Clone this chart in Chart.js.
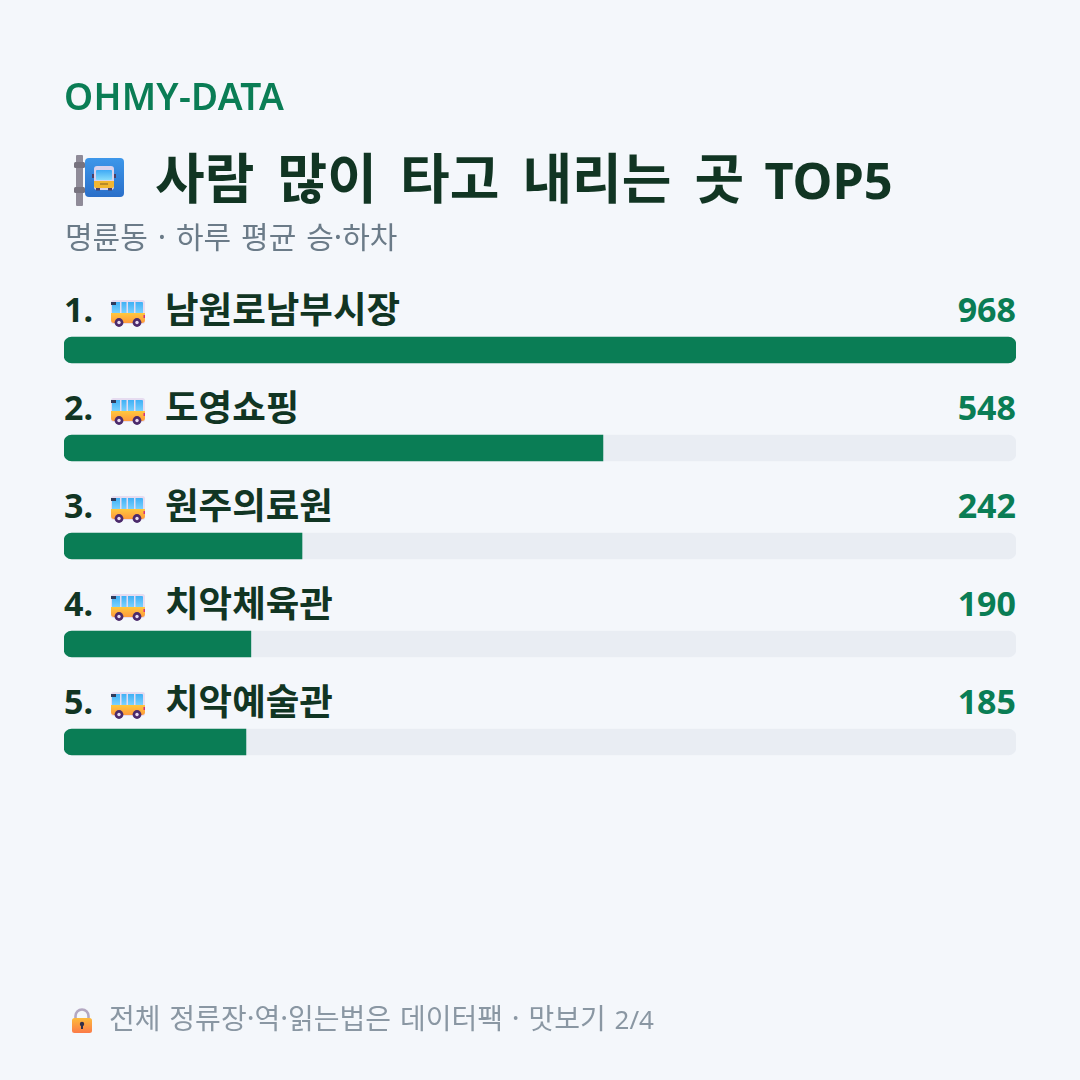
<!DOCTYPE html>
<html lang="ko">
<head>
<meta charset="utf-8">
<title>사람 많이 타고 내리는 곳 TOP5</title>
<script src="https://cdn.jsdelivr.net/npm/chart.js@4"></script>
<style>
  html, body { margin: 0; background: #f4f7fb; }
  .page { position: relative; width: 1080px; height: 1080px; overflow: hidden; }
  canvas { position: absolute; left: 0; top: 0; }
  .text { position: absolute; white-space: nowrap; font-family: "Noto Sans CJK KR", "Noto Sans", sans-serif; }
  .latin { font-family: "Noto Sans", sans-serif; }
  #brand { left: 64px; top: 72px; font-size: 37px; font-weight: 600; letter-spacing: 0.3px; color: #0a7d55; line-height: 48px; }
  #title { left: 155px; top: 141px; font-size: 54px; font-weight: 700; word-spacing: 8px; color: #113523; line-height: 70px; }
  #title .latin { font-size: 50.5px; margin-left: -3px; }
  #subtitle { left: 65px; top: 216px; font-size: 30px; word-spacing: 1.5px; color: #6b7b88; line-height: 38px; }
  #footer { left: 109px; top: 999px; font-size: 28px; word-spacing: 1px; color: #8a97a3; line-height: 36px; }
  #footer .latin { font-size: 26px; }
</style>
</head>
<body>
<div class="page">
  <canvas id="rankChart" width="1080" height="1080"></canvas>
  <div class="text latin" id="brand">OHMY-DATA</div>
  <div class="text" id="title">사람 많이 타고 내리는 곳 <span class="latin">TOP5</span></div>
  <div class="text" id="subtitle">명륜동 · 하루 평균 승·하차</div>
  <div class="text" id="footer">전체 정류장·역·읽는법은 데이터팩 · 맛보기 <span class="latin">2/4</span></div>
</div>
<script>
const stopNames = ["남원로남부시장", "도영쇼핑", "원주의료원", "치악체육관", "치악예술관"];
const riderCounts = [968, 548, 242, 190, 185];
const trackValues = [968, 968, 968, 968, 968];

const GREEN = "#0a7d55";
const TRACK = "#e9edf3";
const INK = "#113523";
const LATIN_FONT = '"Noto Sans", sans-serif';
const HANGUL_FONT = '"Noto Sans CJK KR", sans-serif';

function roundedRect(ctx, x, y, w, h, r, fill) {
  ctx.beginPath();
  ctx.roundRect(x, y, w, h, r);
  ctx.fillStyle = fill;
  ctx.fill();
}

function verticalGradient(ctx, y0, y1, from, to) {
  const g = ctx.createLinearGradient(0, y0, 0, y1);
  g.addColorStop(0, from);
  g.addColorStop(1, to);
  return g;
}

function drawWheel(ctx, cx, cy) {
  ctx.beginPath();
  ctx.arc(cx, cy, 4.4, 0, Math.PI * 2);
  ctx.fillStyle = "#4b2a6b";
  ctx.fill();
  ctx.beginPath();
  ctx.arc(cx, cy, 1.7, 0, Math.PI * 2);
  ctx.fillStyle = "#e9dcf2";
  ctx.fill();
}

// side-on bus, 34 wide and 27 tall from its top left corner
function drawBus(ctx, x, y) {
  roundedRect(ctx, x, y, 34, 24, 2.5, "#e6dcf0");
  roundedRect(ctx, x + 1, y + 2, 31, 12, 1, verticalGradient(ctx, y + 2, y + 14, "#3fb0f5", "#7fd4ff"));
  ctx.fillStyle = "#e6dcf0";
  [9, 15.5, 23].forEach((dx) => ctx.fillRect(x + dx, y + 2, 1.5, 12));
  ctx.fillStyle = "#2f3a5c";
  ctx.fillRect(x, y + 2, 5, 3);
  roundedRect(ctx, x, y + 13, 34, 10, [0, 0, 3, 3], verticalGradient(ctx, y + 13, y + 23, "#ffc83d", "#ff9a3c"));
  ctx.fillStyle = "#d6307a";
  ctx.fillRect(x + 32.5, y + 15, 1.5, 3);
  drawWheel(ctx, x + 8, y + 22.5);
  drawWheel(ctx, x + 26, y + 22.5);
}

// bus stop sign beside the heading
function drawStopSign(ctx) {
  roundedRect(ctx, 76, 155, 7, 51, 1, "#8f8b98");
  roundedRect(ctx, 74, 162, 11, 6, 1.5, "#77737f");
  roundedRect(ctx, 74, 187, 11, 6, 1.5, "#77737f");
  roundedRect(ctx, 85, 158, 39, 39, 4, verticalGradient(ctx, 158, 197, "#3d97ea", "#2a6fc9"));
  roundedRect(ctx, 94, 166, 20, 24, 3, "#d9d2ec");
  roundedRect(ctx, 96, 170, 16, 10, 1, verticalGradient(ctx, 170, 180, "#3fa9f5", "#86dcfb"));
  roundedRect(ctx, 94, 181, 20, 7, [0, 0, 2, 2], "#f2b632");
  ctx.fillStyle = "#b98a2a";
  ctx.fillRect(100, 183, 8, 2);
  ctx.fillStyle = "#4a3f66";
  ctx.fillRect(96, 188, 4, 2.5);
  ctx.fillRect(108, 188, 4, 2.5);
  ctx.fillRect(92, 174, 2, 4);
  ctx.fillRect(114, 174, 2, 4);
}

function drawLock(ctx) {
  ctx.beginPath();
  ctx.arc(82, 1016, 6.5, Math.PI, 0);
  ctx.lineTo(88.5, 1020);
  ctx.moveTo(75.5, 1020);
  ctx.lineTo(75.5, 1016);
  ctx.lineWidth = 2.6;
  ctx.strokeStyle = "#b3a8c2";
  ctx.stroke();
  roundedRect(ctx, 72, 1018, 20, 15, 2.5, verticalGradient(ctx, 1018, 1033, "#fdbb3c", "#fb7a48"));
  ctx.beginPath();
  ctx.arc(82, 1024, 2.2, 0, Math.PI * 2);
  ctx.fillStyle = "#33304a";
  ctx.fill();
  ctx.fillRect(81, 1024, 2, 5);
}

// one line of text above each bar, placed from the category scale
const rowLabels = {
  id: "rowLabels",
  afterDatasetsDraw(chart) {
    const { ctx, scales } = chart;
    ctx.save();
    ctx.textBaseline = "alphabetic";
    stopNames.forEach((name, i) => {
      const center = scales.y.getPixelForValue(i);
      const y = center - 28;
      ctx.textAlign = "left";
      ctx.fillStyle = INK;
      ctx.font = `700 34px ${LATIN_FONT}`;
      ctx.fillText(`${i + 1}.`, 64, y);
      ctx.font = `700 36.5px ${HANGUL_FONT}`;
      ctx.fillText(name, 165, y + 1);
      ctx.font = `700 34px ${LATIN_FONT}`;
      ctx.fillStyle = GREEN;
      ctx.textAlign = "right";
      ctx.fillText(String(riderCounts[i]), scales.x.right, y);
      drawBus(ctx, 111, center - 50);
    });
    ctx.restore();
  },
};

const pageIcons = {
  id: "pageIcons",
  afterDraw(chart) {
    drawStopSign(chart.ctx);
    drawLock(chart.ctx);
  },
};

const canvas = document.getElementById("rankChart");
const context = canvas.getContext("2d", { alpha: false });

new Chart(context, {
  type: "bar",
  data: {
    labels: stopNames,
    datasets: [
      {
        data: riderCounts,
        backgroundColor: GREEN,
        barThickness: 26,
        borderSkipped: false,
        grouped: false,
        order: 0,
        borderRadius(c) {
          const r = c.raw >= trackValues[c.dataIndex] ? 8 : 0;
          return { topLeft: 8, bottomLeft: 8, topRight: r, bottomRight: r };
        },
      },
      {
        data: trackValues,
        backgroundColor: TRACK,
        barThickness: 26,
        borderSkipped: false,
        borderRadius: 8,
        grouped: false,
        order: 1,
      },
    ],
  },
  options: {
    indexAxis: "y",
    responsive: false,
    animation: false,
    layout: { padding: { top: 301, bottom: 289, left: 64, right: 64 } },
    scales: {
      x: { display: false, min: 0, max: 968 },
      y: { display: false },
    },
    plugins: {
      legend: { display: false },
      tooltip: { enabled: false },
      title: { display: false },
    },
  },
  plugins: [
    {
      id: "pageBackground",
      beforeDraw(chart) {
        chart.ctx.fillStyle = "#f4f7fb";
        chart.ctx.fillRect(0, 0, chart.width, chart.height);
      },
    },
    rowLabels,
    pageIcons,
  ],
});
</script>
</body>
</html>
